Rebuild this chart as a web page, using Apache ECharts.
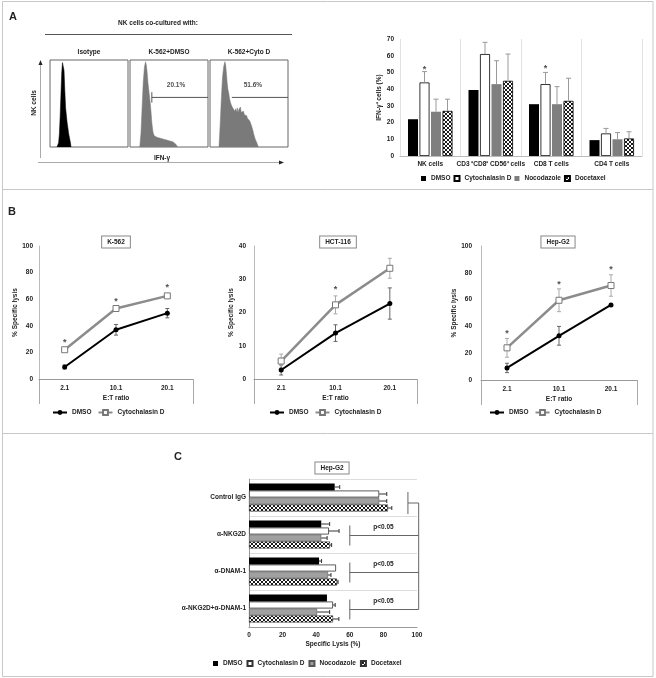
<!DOCTYPE html>
<html><head><meta charset="utf-8">
<script src="https://cdn.jsdelivr.net/npm/echarts@6/dist/echarts.min.js"></script>
<style>html,body{margin:0;padding:0;background:#fff}#c{width:656px;height:678px}</style>
</head><body><div id="c"></div>
<script>
// ================= DATA =================
// Panel A – flow cytometry histograms ([IFN-γ channel %, relative count %])
const histTitles = ['Isotype', 'K-562+DMSO', 'K-562+Cyto D'];
const histIsotype = [[9,0],[11,5],[12,15],[13,35],[14,60],[15,85],[16,97],[17,99],[18,88],[19,65],[20,45],[22,28],[24,15],[26,6],[27,0]];
const histDMSO = [[12.5,0],[14,15],[15.5,45],[17,75],[18.5,92],[20,98],[21,94],[22,86],[23,74],[24.5,62],[26,50],[27,40],[28,28],[29.5,17],[31,13],[33,12],[35,11],[37,12],[39,10],[41,11],[43,9],[45,10],[47,8],[49,9],[51,7],[53,8],[55,6],[57,5],[59,3],[61,0]];
const histCytoD = [[11.5,0],[13,25],[14.5,55],[16,80],[17.5,92],[19,98],[20,95],[21,85],[22,74],[23,66],[24,62],[25,56],[26,52],[27,49],[28,47],[29,45],[30,43],[31,46],[32,41],[33,44],[34,40],[35,45],[36,39],[37,43],[38,41],[39,46],[40,40],[41,42],[42,38],[43,41],[44,37],[45,38],[46,35],[47,36],[48,33],[49,34],[50,32],[51,30],[52,28],[53,25],[54,22],[55,19],[56,15],[57,12],[58,9],[59,7],[60,5],[61,3],[62,0]];
const gatePercent = [null, '20.1%', '51.6%'];
const gateLine = [[28,57],[100,57]];
const gateTick = [[28,51],[28,63]];
const gateLabelPos = [null, [59,71], [55,71]];

// Panel A – bar chart
const drugNames = ['DMSO', 'Cytochalasin D', 'Nocodazole', 'Docetaxel'];
const aCategories = ['NK cells', 'CD3 ⁺CD8⁺ CD56⁺ cells', 'CD8 T cells', 'CD4 T cells'];
const aDMSO  = [22, 39.5, 31, 9.5];
const aCytoD = [44, 61, 43, 13.5];
const aNoc   = [26.5, 43, 31, 10];
const aDoc   = [27, 45, 33, 10.5];
const aCytoDErr = [6.5, 7, 7, 3];
const aNocErr   = [7.5, 14, 10.5, 4];
const aDocErr   = [7, 16, 13.5, 4];
const aStars    = [53, 70.5, 53.5, null];
const aTicks = [0, 10, 20, 30, 40, 50, 60, 70];

// Panel B – % specific lysis vs E:T ratio
const etRatios = ['2.1', '10.1', '20.1'];
const bTitles = ['K-562', 'HCT-116', 'Hep-G2'];
const bDMSO     = [[9, 37, 49.5], [2.7, 13.8, 22.7], [9, 33, 56]];
const bDMSOErr  = [[1.5, 4, 3.5], [1.5, 2.5, 4.7], [3.5, 7, 0.5]];
const bCytoD    = [[22, 53, 62.5], [5.4, 22.3, 33.3], [24, 59.5, 70.5]];
const bCytoDErr = [[1.5, 1.5, 1.5], [2.1, 2.7, 3], [7, 8.5, 8]];
const bStars    = [[29, 60, 70], [null, 27.5, null], [36, 73, 84]];
const bYMax = [100, 40, 100];
const bYInterval = [20, 10, 20];

// Panel C – Hep-G2 specific lysis with blocking antibodies
const cCategories = ['Control IgG', 'α-NKG2D', 'α-DNAM-1', 'α-NKG2D+α-DNAM-1'];
const cDMSO  = [51, 43, 41.7, 46.4];
const cCytoD = [77.5, 47.6, 51.8, 50];
const cNoc   = [77.5, 43, 47, 40.5];
const cDoc   = [82.7, 48.2, 52.4, 50];
const cDMSOErr  = [3, 5, 1.5, 0];
const cCytoDErr = [4.5, 6, 0, 1.3];
const cNocErr   = [4.5, 3.5, 1.8, 7.5];
const cDocErr   = [2.3, 1, 0.6, 3.5];
const cPValues  = [null, 'p<0.05', 'p<0.05', 'p<0.05'];

// ================= LAYOUT / STYLE =================
const FONT = 'Liberation Sans';
const T = (sz, extra) => Object.assign({fontFamily: FONT, fontSize: sz, fontWeight: 'bold', color: '#222'}, extra || {});
const L = {
  hist: [{left:50,top:60,width:78,height:87},{left:130,top:60,width:78,height:87},{left:210,top:60,width:78,height:87}],
  barA: {left:400, top:39, width:242, height:117},
  b: [{left:39,top:246,width:154,height:133},{left:254,top:246,width:163,height:133},{left:481,top:246,width:156,height:134}],
  c: {left:249, top:479, width:168, height:148}
};

function hatchCanvas() {
  const c = document.createElement('canvas'); c.width = 4; c.height = 4;
  const g = c.getContext('2d');
  g.fillStyle = '#fff'; g.fillRect(0,0,4,4);
  g.fillStyle = '#1a1a1a';
  [[0,0],[1,1],[2,2],[3,3],[3,0],[2,1],[1,2],[0,3]].forEach(p => g.fillRect(p[0], p[1], 1, 1));
  return c;
}
const HATCH = {image: hatchCanvas(), repeat: 'repeat'};
const drugStyleA = [
  {color:'#000'},
  {color:'#fff', borderColor:'#000', borderWidth:0.8},
  {color:'#7f7f7f'},
  {color:HATCH, borderColor:'#000', borderWidth:0.8}
];
const drugStyleC = [
  {color:'#000'},
  {color:'#fff', borderColor:'#333', borderWidth:0.8},
  {color:'#a0a0a0', borderColor:'#555', borderWidth:0.6},
  {color:HATCH, borderColor:'#333', borderWidth:0.6}
];

function vErrItem(offset, color, both, cap) {
  return function (params, api) {
    const c = api.value(0), v = api.value(1), e = api.value(2);
    if (!(e > 0)) return;
    const p1 = api.coord([c, v + e]);
    const p0 = api.coord([c, both ? v - e : v]);
    const x = p1[0] + offset;
    const st = {stroke: color, lineWidth: 1};
    const ch = [
      {type:'line', shape:{x1:x, y1:p1[1], x2:x, y2:p0[1]}, style:st},
      {type:'line', shape:{x1:x-cap, y1:p1[1], x2:x+cap, y2:p1[1]}, style:st}
    ];
    if (both) ch.push({type:'line', shape:{x1:x-cap, y1:p0[1], x2:x+cap, y2:p0[1]}, style:st});
    return {type:'group', children:ch};
  };
}
function hErrItem(offset, color, cap) {
  return function (params, api) {
    const v = api.value(0), c = api.value(1), e = api.value(2);
    if (!(e > 0)) return;
    const p0 = api.coord([v, c]), p1 = api.coord([v + e, c]);
    const y = p0[1] + offset;
    const st = {stroke: color, lineWidth: 1};
    return {type:'group', children:[
      {type:'line', shape:{x1:p0[0], y1:y, x2:p1[0], y2:y}, style:st},
      {type:'line', shape:{x1:p1[0], y1:y-cap, x2:p1[0], y2:y+cap}, style:st}
    ]};
  };
}

// ================= GRIDS & AXES =================
const grids = [], xAxes = [], yAxes = [], series = [], legends = [];
L.hist.forEach(g => grids.push(Object.assign({show:true, borderColor:'#666', borderWidth:1, backgroundColor:'transparent', outerBoundsMode:'none', containLabel:false}, g)));
grids.push(Object.assign({outerBoundsMode:'none', containLabel:false}, L.barA));
L.b.forEach(g => grids.push(Object.assign({outerBoundsMode:'none', containLabel:false}, g)));
grids.push(Object.assign({outerBoundsMode:'none', containLabel:false}, L.c));

for (let i = 0; i < 3; i++) {
  xAxes.push({gridIndex:i, type:'value', min:0, max:100, show:false});
  yAxes.push({gridIndex:i, type:'value', min:0, max:100, show:false});
}
xAxes.push({gridIndex:3, type:'category', data:aCategories, axisLine:{lineStyle:{color:'#bbb'}}, axisTick:{show:false},
  axisLabel:Object.assign(T(6.5), {margin:5, interval:0}), splitLine:{show:true, lineStyle:{color:'#e2e2e2'}}});
yAxes.push({gridIndex:3, type:'value', min:aTicks[0], max:aTicks[aTicks.length-1], interval:aTicks[1]-aTicks[0],
  axisLine:{show:false}, axisTick:{show:false}, splitLine:{show:false}, axisLabel:Object.assign(T(6.5), {margin:6}),
  name:'IFN-γ⁺ cells (%)', nameLocation:'middle', nameGap:15, nameTextStyle:T(6.5)});
const bLabelMargin = [6, 8, 9], bNameGap = [18, 16.5, 17.5];
for (let k = 0; k < 3; k++) {
  xAxes.push({gridIndex:4+k, type:'category', data:etRatios, boundaryGap:true, axisLine:{lineStyle:{color:'#999'}}, axisTick:{show:false},
    axisLabel:Object.assign(T(6.5), {margin:6}), name:'E:T ratio', nameLocation:'middle', nameGap:16, nameTextStyle:T(6.5)});
  yAxes.push({gridIndex:4+k, type:'value', min:0, max:bYMax[k], interval:bYInterval[k], axisLine:{show:true, lineStyle:{color:'#bbb'}},
    axisTick:{show:false}, splitLine:{show:false}, axisLabel:Object.assign(T(6.5), {margin:bLabelMargin[k]}),
    name:'% Specific lysis', nameLocation:'middle', nameGap:bNameGap[k], nameTextStyle:T(6.5)});
}
xAxes.push({gridIndex:7, type:'value', min:0, max:100, interval:20, axisLine:{show:true, lineStyle:{color:'#999'}}, axisTick:{show:false},
  splitLine:{show:false}, axisLabel:Object.assign(T(6.5), {margin:5}), name:'Specific Lysis (%)', nameLocation:'middle', nameGap:14, nameTextStyle:T(6.5)});
yAxes.push({gridIndex:7, type:'category', data:cCategories, inverse:true, axisLine:{lineStyle:{color:'#999'}}, axisTick:{show:false},
  axisLabel:Object.assign(T(6.5), {margin:3}), splitLine:{show:true, lineStyle:{color:'#ddd'}}});

// ================= SERIES =================
// Histograms
[histIsotype, histDMSO, histCytoD].forEach((h, i) => {
  const col = i === 0 ? '#000' : '#7a7a7a';
  series.push({type:'line', xAxisIndex:i, yAxisIndex:i, data:h, symbol:'none', silent:true,
    lineStyle:{width:0.5, color:col}, areaStyle:{color:col, opacity:1}, z:2});
  if (gatePercent[i]) {
    series.push({type:'line', xAxisIndex:i, yAxisIndex:i, data:gateLine, symbol:'none', silent:true, lineStyle:{width:1, color:'#555'}, z:3});
    if (i === 1) series.push({type:'line', xAxisIndex:i, yAxisIndex:i, data:gateTick, symbol:'none', silent:true, lineStyle:{width:1, color:'#555'}, z:3});
    series.push({type:'scatter', xAxisIndex:i, yAxisIndex:i, data:[gateLabelPos[i]], symbolSize:1, itemStyle:{color:'transparent'}, silent:true,
      label:Object.assign({show:true, position:'inside', formatter:gatePercent[i]}, T(6.5))});
  }
});

// Panel A bars
const aVals = [aDMSO, aCytoD, aNoc, aDoc];
const aErrs = [null, aCytoDErr, aNocErr, aDocErr];
drugNames.forEach((n, i) => {
  series.push({type:'bar', name:n + '|A', xAxisIndex:3, yAxisIndex:3, data:aVals[i], barWidth:10, barGap:'15%', itemStyle:drugStyleA[i], silent:true});
});
drugNames.forEach((n, i) => {
  if (!aErrs[i]) return;
  series.push({type:'custom', xAxisIndex:3, yAxisIndex:3, renderItem:vErrItem(-17.25 + 11.5 * i, '#999', false, 2.5),
    data:aVals[i].map((v, j) => [j, v, aErrs[i][j]]), encode:{x:0, y:1}, z:5, silent:true});
});
series.push({type:'scatter', xAxisIndex:3, yAxisIndex:3, symbolSize:1, itemStyle:{color:'transparent'}, silent:true,
  data:aStars.map((v, j) => v == null ? null : [j, v]).filter(d => d),
  label:Object.assign({show:true, position:'inside', formatter:'*', offset:[-5.75, 2]}, T(9))});
legends.push({left:421, top:175, padding:0, icon:'rect', itemWidth:5, itemHeight:5, itemGap:3, data:drugNames.map(n => n + '|A'),
  formatter:n => n.split('|')[0], textStyle:T(6.5), selectedMode:false});

// Panel B lines
for (let k = 0; k < 3; k++) {
  const ax = 4 + k;
  series.push({type:'line', name:'DMSO|B' + k, xAxisIndex:ax, yAxisIndex:ax, data:bDMSO[k], color:'#000',
    lineStyle:{width:2, color:'#000'}, symbol:'circle', symbolSize:5, itemStyle:{color:'#000'}, z:3, silent:true});
  series.push({type:'line', name:'Cytochalasin D|B' + k, xAxisIndex:ax, yAxisIndex:ax, data:bCytoD[k], color:'#8c8c8c',
    lineStyle:{width:2.5, color:'#8c8c8c'}, symbol:'rect', symbolSize:6, itemStyle:{color:'#fff', borderColor:'#777', borderWidth:1}, z:4, silent:true});
  series.push({type:'custom', xAxisIndex:ax, yAxisIndex:ax, renderItem:vErrItem(0, '#666', true, 2),
    data:bDMSO[k].map((v, j) => [j, v, bDMSOErr[k][j]]), encode:{x:0, y:1}, z:2, silent:true});
  series.push({type:'custom', xAxisIndex:ax, yAxisIndex:ax, renderItem:vErrItem(0, '#aaa', true, 2),
    data:bCytoD[k].map((v, j) => [j, v, bCytoDErr[k][j]]), encode:{x:0, y:1}, z:2, silent:true});
  series.push({type:'scatter', xAxisIndex:ax, yAxisIndex:ax, symbolSize:1, itemStyle:{color:'transparent'}, silent:true,
    data:bStars[k].map((v, j) => v == null ? null : [j, v]).filter(d => d),
    label:Object.assign({show:true, position:'inside', formatter:'*', offset:[0, 2]}, T(9))});
}
const bLegendLeft = [52, 269, 489];
for (let k = 0; k < 3; k++) {
  legends.push({left:bLegendLeft[k], top:409, padding:0, itemWidth:14, itemHeight:6, itemGap:6,
    data:['DMSO|B' + k, 'Cytochalasin D|B' + k], formatter:n => n.split('|')[0], textStyle:T(6.5), selectedMode:false});
}

// Panel C horizontal bars
const cVals = [cDMSO, cCytoD, cNoc, cDoc];
const cErrs = [cDMSOErr, cCytoDErr, cNocErr, cDocErr];
drugNames.forEach((n, i) => {
  series.push({type:'bar', name:n + '|C', xAxisIndex:7, yAxisIndex:7, data:cVals[i], barWidth:7, barGap:'0%', itemStyle:drugStyleC[i], silent:true});
});
drugNames.forEach((n, i) => {
  series.push({type:'custom', xAxisIndex:7, yAxisIndex:7, renderItem:hErrItem(-10.5 + 7 * i, '#333', 2),
    data:cVals[i].map((v, j) => [v, j, cErrs[i][j]]), encode:{x:0, y:1}, z:5, silent:true});
});
legends.push({left:213, top:660, padding:0, icon:'rect', itemWidth:5, itemHeight:5, itemGap:4, data:drugNames.map(n => n + '|C'),
  formatter:n => n.split('|')[0], textStyle:T(6.5), selectedMode:false});

// ================= STATIC DECORATION =================
const G = [];
const line = (x1, y1, x2, y2, color, w) => ({type:'line', silent:true, shape:{x1, y1, x2, y2}, style:{stroke:color || '#555', lineWidth:w || 1}});
const text = (x, y, s, sz, extra) => ({type:'text', silent:true, x, y, style:Object.assign({text:s, fill:'#222', font:'bold ' + sz + 'px "' + FONT + '"', align:'center', verticalAlign:'middle'}, extra || {})});
// frame
G.push({type:'rect', silent:true, shape:{x:2.5, y:1.5, width:650.5, height:675}, style:{fill:'none', stroke:'#c8c8c8', lineWidth:1}});
G.push(line(2.5, 189.5, 653, 189.5, '#c8c8c8'));
G.push(line(2.5, 433.5, 653, 433.5, '#c8c8c8'));
// panel A decorations
G.push(text(13, 17, 'A', 11));
G.push(text(158, 23, 'NK cells co-cultured with:', 6.5));
G.push(line(45, 34.5, 292, 34.5, '#555'));
L.hist.forEach((g, i) => G.push(text(g.left + g.width / 2, 52, histTitles[i], 6.5)));
G.push(line(40.5, 158, 40.5, 64, '#aaa'));
G.push({type:'polygon', silent:true, shape:{points:[[40.5, 60], [38.5, 65], [42.5, 65]]}, style:{fill:'#222'}});
const nkLabel = text(34, 103, 'NK cells', 6.5);
nkLabel.rotation = Math.PI / 2;
G.push(nkLabel);
G.push(line(38, 162.5, 280, 162.5, '#aaa'));
G.push({type:'polygon', silent:true, shape:{points:[[284, 162.5], [279, 160.5], [279, 164.5]]}, style:{fill:'#222'}});
G.push(text(162, 158, 'IFN-γ', 6.5));
// panel B
G.push(text(12, 212, 'B', 11));
const bTitleX = [116, 338, 558];
L.b.forEach((g, k) => {
  G.push(text(bTitleX[k], 242, bTitles[k], 6.5, {borderColor:'#888', borderWidth:1, padding:[2, 5, 2, 5], backgroundColor:'#fff'}));
  G.push(line(g.left + 0.5, g.top + g.height, g.left + 0.5, g.top + g.height + 25, '#aaa'));
  G.push(line(g.left + g.width + 0.5, g.top + g.height, g.left + g.width + 0.5, g.top + g.height + 25, '#aaa'));
});
// panel C
G.push(text(178, 457, 'C', 11));
G.push(text(332, 468, 'Hep-G2', 6.5, {borderColor:'#888', borderWidth:1, padding:[2, 5, 2, 5], backgroundColor:'#fff'}));

const chart = echarts.init(document.getElementById('c'), null, {renderer:'canvas', width:656, height:678});
chart.setOption({
  animation:false,
  backgroundColor:'#fff',
  textStyle:{fontFamily:FONT},
  grid:grids, xAxis:xAxes, yAxis:yAxes, series:series, legend:legends, graphic:G
});

// significance brackets in panel C (positioned through the axis scale)
const px = (x, c) => chart.convertToPixel({gridIndex:7}, [x, c]);
const rightX = px(101, 0)[0];
const cy0 = px(0, 0)[1];
const ctrlX = px(94.6, 0)[0];
G.push(line(ctrlX, cy0 - 5.5, ctrlX, cy0 + 16.5, '#666'));
G.push(line(ctrlX, cy0 + 5.5, rightX, cy0 + 5.5, '#666'));
let lastY = cy0 + 5.5;
cPValues.forEach((p, j) => {
  if (!p) return;
  const cy = px(0, j)[1] + 1;
  const lx = px(60, j)[0];
  G.push(line(lx, cy - 10, lx, cy + 10, '#666'));
  G.push(line(lx, cy, rightX, cy, '#666'));
  G.push(text(px(80, j)[0], cy - 8, p, 6.5));
  lastY = cy;
});
G.push(line(rightX, cy0 + 5.5, rightX, lastY, '#666'));
chart.setOption({graphic:G});
</script>
</body></html>
